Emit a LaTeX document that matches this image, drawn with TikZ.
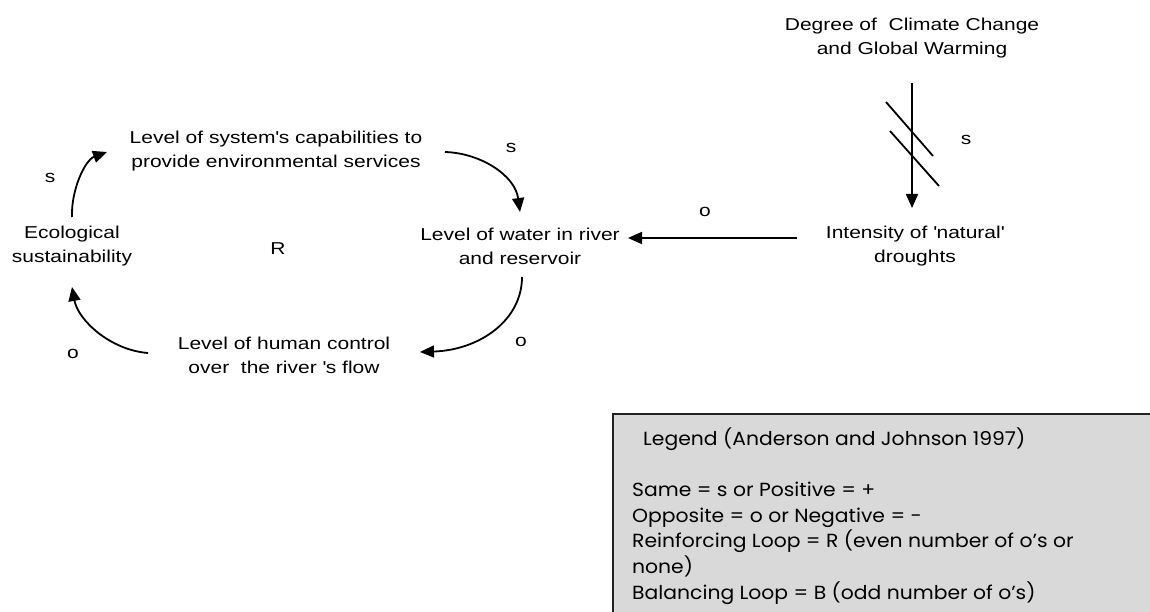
\documentclass[tikz,border=0pt]{standalone}
\usepackage{fontspec}
\setmainfont{Liberation Sans}[FakeStretch=1.22]
\newfontfamily\legfont{Poppins}[FakeStretch=1.07]
\usetikzlibrary{arrows.meta,calc}
\definecolor{legfill}{HTML}{D9D9D9}
\definecolor{legedge}{HTML}{222222}
\tikzset{
  lbl/.style={font=\fontsize{17.2}{24}\selectfont, align=center, inner sep=0pt, text=black},
  pol/.style={font=\fontsize{17.2}{24}\selectfont, inner sep=0pt},
  arr/.style={line width=1.8pt, -{Triangle[length=14pt,width=12pt]}},
  delay/.style={line width=1.8pt},
}
\begin{document}
\begin{tikzpicture}[x=1pt,y=-1pt]
\useasboundingbox (0,0) rectangle (1150,612);
% nodes
\node[lbl] (clim) at (912,38) {Degree of\ \ Climate Change\\and Global\ Warming};
\node[lbl] (cap) at (276,151) {Level of system\textquotesingle s capabilities to\\provide environmental\ services};
\node[lbl] (wat) at (520,246) {Level of water in river\\and reservoir};
\node[lbl] (dro) at (915,246) {Intensity of \textquotesingle natural\textquotesingle\\droughts};
\node[lbl] (eco) at (72,246) {Ecological\\sustainability};
\node[lbl] (hum) at (284,355) {Level of human control\\over\ \ the river \textquotesingle s flow};
\node[pol] (R) at (278,249) {R};
% polarity labels
\node[pol] (p1) at (50,178) {s};
\node[pol] (p2) at (511,148) {s};
\node[pol] (p3) at (705,212) {o};
\node[pol] (p4) at (966,140) {s};
\node[pol] (p5) at (73,354) {o};
\node[pol] (p6) at (521,342) {o};
% connectors
\draw[arr] ($(clim)+(0,45)$) -- ($(dro)+(-3,-38)$);
\draw[delay] (886,102) -- (933,156);
\draw[delay] (890,131) -- (939,186);
\draw[arr] ($(dro)+(-118,-8)$) -- ($(wat)+(108,-8)$);
\draw[arr] ($(cap)+(169,1)$) .. controls +(35,1) and +(-5,-37) .. ($(wat)+(0,-34)$);
\draw[arr] ($(wat)+(2,31)$) .. controls +(0,43) and +(60,-2) .. ($(hum)+(136,-3)$);
\draw[arr] ($(hum)+(-136,-2)$) .. controls +(-38,-3) and +(6,33) .. ($(eco)+(0,41)$);
\draw[arr] ($(eco)+(0,-29)$) .. controls +(-1,-27) and +(-22,8) .. ($(cap)+(-169,1)$);
% legend
\path[draw=legedge, fill=legfill, line width=1.5pt] (613,414) rectangle (1160,620);
\node[anchor=base west, inner sep=0pt, align=left, font=\legfont\fontsize{19}{25.6}\selectfont] (leg) at (632,599)
 {\hspace{11pt}Legend (Anderson and Johnson 1997)\\[25.6pt]
  Same = s or Positive = +\\
  Opposite = o or Negative = -\\
  Reinforcing Loop = R (even number of o’s or\\
  none)\\
  Balancing Loop = B (odd number of o’s)};
\end{tikzpicture}
\end{document}
